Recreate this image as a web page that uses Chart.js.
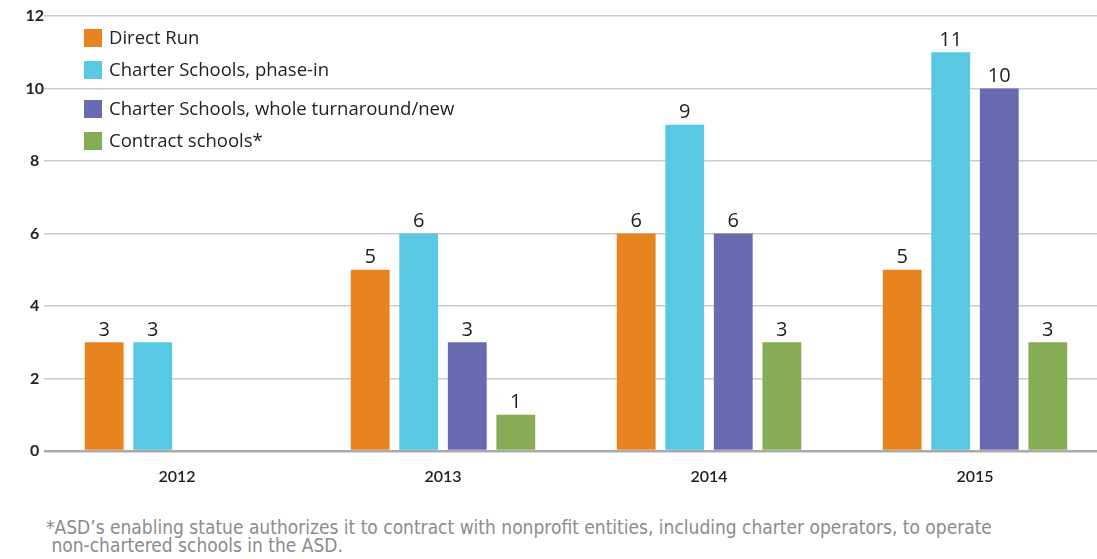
<!DOCTYPE html>
<html lang="en">
<head>
    <meta charset="UTF-8">
    <title>ASD schools</title>
    <script src="https://cdn.jsdelivr.net/npm/chart.js@4.4.0/dist/chart.umd.min.js"></script>
    <style>
        body { margin: 0; overflow: hidden; background: #fff; }
        #wrap { position: relative; width: 1108px; height: 500px; }
        #note {
            font-family: "Liberation Sans Narrow", "DejaVu Sans Condensed", sans-serif;
            font-size: 19px;
            line-height: 18px;
            color: #8c8c8c;
            margin: 18px 0 0 46px;
            white-space: nowrap;
        }
    </style>
</head>
<body>
    <div id="wrap"><canvas id="chart" width="1108" height="500"></canvas></div>
    <div id="note">*ASD’s enabling statue authorizes it to contract with nonprofit entities, including charter operators, to operate<br>&nbsp;non-chartered schools in the ASD.</div>
    <script>

const years = ['2012', '2013', '2014', '2015'];
const directRun = [3, 5, 6, 5];
const charterPhaseIn = [3, 6, 9, 11];
const charterWhole = [null, 3, 6, 10];
const contractSchools = [null, 1, 3, 3];
const yTicks = [0, 2, 4, 6, 8, 10, 12];

// values written above each bar
const barLabels = {
    id: 'barLabels',
    afterDatasetsDraw(chart) {
        const ctx = chart.ctx;
        ctx.save();
        ctx.font = '20px "Open Sans", sans-serif';
        ctx.fillStyle = '#222';
        ctx.textAlign = 'center';
        ctx.textBaseline = 'bottom';
        chart.data.datasets.forEach((ds, i) => {
            chart.getDatasetMeta(i).data.forEach((bar, j) => {
                if (ds.data[j] == null) return;
                ctx.fillText(ds.data[j], bar.x, bar.y - 2);
            });
        });
        ctx.restore();
    }
};

// legend sits inside the plot, top left
const insideLegend = {
    id: 'insideLegend',
    afterDraw(chart) {
        const ctx = chart.ctx;
        const rows = [38, 70, 109, 141];
        ctx.save();
        ctx.font = '18.5px "Open Sans", sans-serif';
        ctx.textBaseline = 'middle';
        chart.data.datasets.forEach((ds, i) => {
            ctx.fillStyle = ds.backgroundColor;
            ctx.fillRect(84, rows[i] - 9, 18, 18);
            ctx.fillStyle = '#222';
            ctx.fillText(ds.label, 109, rows[i] + 1);
        });
        ctx.restore();
    }
};

let ctx = document.getElementById('chart').getContext('2d');
let myChart = new Chart(ctx, {
    type: 'bar',
    data: {
        labels: years,
        datasets: [
            { label: 'Direct Run', data: directRun, backgroundColor: '#E8841F' },
            { label: 'Charter Schools, phase-in', data: charterPhaseIn, backgroundColor: '#59C8E2' },
            { label: 'Charter Schools, whole turnaround/new', data: charterWhole, backgroundColor: '#6A6AB0' },
            { label: 'Contract schools*', data: contractSchools, backgroundColor: '#86AD55' }
        ]
    },
    options: {
        responsive: false,
        animation: false,
        categoryPercentage: 0.73,
        barPercentage: 0.8,
        layout: { padding: { top: 16, right: 0, left: 0, bottom: 0 } },
        plugins: {
            legend: { display: false },
            tooltip: { enabled: false }
        },
        scales: {
            x: {
                grid: { display: false, drawTicks: false },
                border: { display: false },
                ticks: {
                    padding: 16,
                    color: '#222',
                    font: { family: 'Lato', size: 16, weight: '600' }
                },
                afterFit: (s) => { s.height = 49; }
            },
            y: {
                min: 0,
                max: 12,
                afterBuildTicks: (s) => { s.ticks = yTicks.map(v => ({ value: v })); },
                grid: {
                    drawTicks: false,
                    color: (c) => c.tick && c.tick.value === 0 ? '#aaaaaa' : '#cccccc',
                    lineWidth: (c) => c.tick && c.tick.value === 0 ? 2.5 : 1.5
                },
                border: { display: false },
                ticks: {
                    crossAlign: 'center',
                    padding: 0,
                    color: '#222',
                    font: { family: 'Lato', size: 16, weight: 'bold' }
                },
                afterFit: (s) => { s.width = 44; }
            }
        }
    },
    plugins: [barLabels, insideLegend]
});

    </script>
</body>
</html>
